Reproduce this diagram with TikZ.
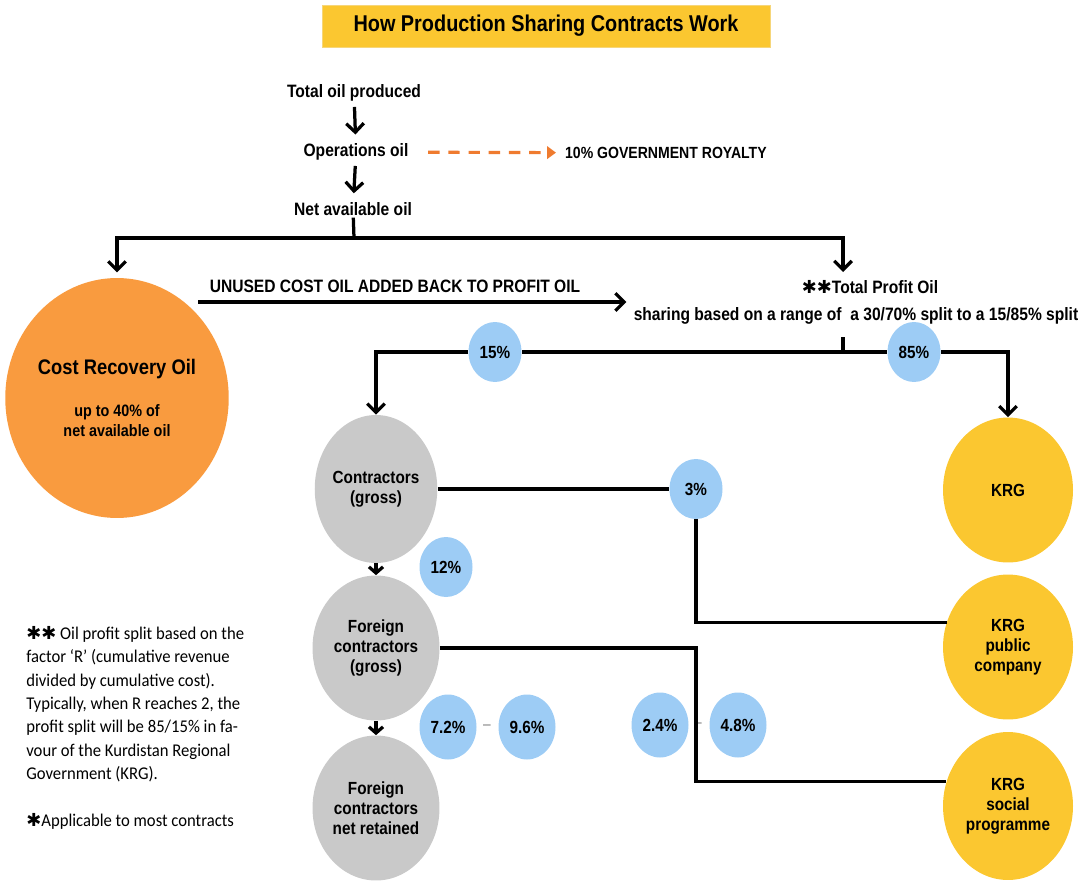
\documentclass[tikz,border=0pt]{standalone}
\usepackage{fontspec}
\setmainfont{Liberation Sans}[FakeStretch=0.87]
\newfontfamily\notefont{Carlito}[FakeStretch=0.93]
\newfontfamily\symfont{DejaVu Sans}
\usetikzlibrary{arrows.meta,shapes.geometric}

\definecolor{krgyellow}{HTML}{FBC730}
\definecolor{titleedge}{HTML}{F6D67A}
\definecolor{costorange}{HTML}{F99B3F}
\definecolor{royorange}{HTML}{EF7B2F}
\definecolor{contgray}{HTML}{C9C9C9}
\definecolor{pctblue}{HTML}{9DCCF5}

\newcommand{\starmark}{{\symfont\char"2731}}

\begin{document}
\begin{tikzpicture}[
  x=0.02cm, y=-0.02cm,
  every node/.style={inner sep=1pt, align=center, text=black},
  lbl/.style={font=\bfseries\fontsize{10.2}{11.4}\selectfont},
  oval/.style={ellipse, inner sep=0pt, font=\bfseries\fontsize{10}{11.4}\selectfont},
  contr/.style={oval, fill=contgray, minimum width=2.54cm, minimum height=2.9cm},
  krgnode/.style={oval, fill=krgyellow, minimum width=2.6cm, minimum height=2.9cm},
  pct/.style={ellipse, fill=pctblue, inner sep=0pt, minimum width=1.06cm, minimum height=1.2cm, font=\bfseries\fontsize{10}{12}\selectfont},
  pctwide/.style={pct, minimum width=1.14cm, minimum height=1.3cm},
  sep/.style={text=gray, font=\fontsize{9}{10}\selectfont},
  line/.style={line width=1.85pt},
  arr/.style={line width=1.85pt, -{Straight Barb[length=5pt,width=10pt]}},
  arrsmall/.style={line width=1.85pt, -{Straight Barb[length=3.5pt,width=8pt]}},
  dasharr/.style={line width=1.8pt, royorange, dash pattern=on 6.5pt off 5pt, -{Triangle[length=5pt,width=7pt]}}
]
  \useasboundingbox (0,0) rectangle (1084,882);

  % title
  \node (title) at (546,26) [fill=krgyellow, draw=titleedge, minimum width=8.96cm, minimum height=0.84cm,
    font=\bfseries\fontsize{13}{15}\selectfont] {How Production Sharing Contracts Work};

  % top of the flow
  \node[lbl] (total) at (354,93) {Total oil produced};
  \node[lbl] (ops) at (356,152) {Operations oil};
  \node[anchor=west, font=\bfseries\fontsize{9.2}{11}\selectfont] (royalty) at (563,153) {10\% GOVERNMENT ROYALTY};
  \node[lbl] (net) at (353,209) {Net available oil};

  \node (cro) at (117,398) [oval, fill=costorange, minimum width=4.2cm, minimum height=4.8cm] {%
    {\fontsize{12}{14}\selectfont Cost Recovery Oil}\\[12pt]
    {\fontsize{9.4}{11.4}\selectfont up to 40\% of}\\
    {\fontsize{9.4}{11.4}\selectfont net available oil}};

  \node[lbl] (unused) at (395,286) {UNUSED COST OIL ADDED BACK TO PROFIT OIL};
  \node[lbl] (profit) at (870,287) {\starmark\starmark Total Profit Oil};
  \node[lbl] (sharing) at (856,316) {sharing based on a range of~ a 30/70\% split to a 15/85\% split};

  % percentages
  \node[pct] (p15) at (495,352) {15\%};
  \node[pct] (p85) at (914,352) {85\%};
  \node[pct] (p3) at (696,489) {3\%};
  \node[pct] (p12) at (446,567) {12\%};
  \node[pctwide] (p72) at (448,727) {7.2\%};
  \node[pctwide] (p96) at (527,727) {9.6\%};
  \node[pctwide] (p24) at (660,725) {2.4\%};
  \node[pctwide] (p48) at (738,725) {4.8\%};
  \node[sep] (d1) at (487,727) {--};
  \node[sep] (d2) at (698,725) {--};

  % contractors and KRG
  \node[contr, minimum width=2.42cm, minimum height=2.96cm] (cg) at (376,489) {Contractors\\(gross)};
  \node[contr] (fcg) at (376,648) {Foreign\\contractors\\(gross)};
  \node[contr] (fcn) at (376,808) {Foreign\\contractors\\net retained};
  \node[krgnode] (krg) at (1008,490) {KRG};
  \node[krgnode] (krgpub) at (1008,647) {KRG\\public\\company};
  \node[krgnode, minimum height=2.96cm] (krgsoc) at (1008,806) {KRG\\social\\programme};

  % footnote
  \node[anchor=north west, align=left, inner sep=0pt,
    font=\notefont\fontsize{10.2}{13.3}\selectfont] (note) at (26,626) {%
    \starmark\starmark\ Oil profit split based on the\\
    factor ‘R’ (cumulative revenue\\
    divided by cumulative cost).\\
    Typically, when R reaches 2, the\\
    profit split will be 85/15\% in fa-\\
    vour of the Kurdistan Regional\\
    Government (KRG).\\[13.3pt]
    \starmark Applicable to most contracts};

  \coordinate (bar1) at (354,238);
  \coordinate (ptop) at (843,272);
  \coordinate (uc) at (198,302);
  \coordinate (bar2) at (843,352);
  \coordinate (bend) at (696,648);

  \draw[arr, shorten <=2pt, shorten >=4pt] (total) -- (ops);
  \draw[dasharr, shorten <=10pt, shorten >=4pt] (ops) -- (royalty);
  \draw[arr, shorten <=2pt, shorten >=4pt] (ops) -- (net);
  \draw[line] (net) -- (bar1);
  \draw[arr, shorten >=3pt] (bar1) -| (cro);
  \draw[arr] (bar1) -| (ptop);
  \draw[arr, shorten >=3pt] (uc) -- (uc -| sharing.west);
  \draw[line, shorten <=6pt] (bar2 |- sharing.south) -- (bar2);
  \draw[line] (bar2) -- (p15);
  \draw[arr] (p15) -| (cg);
  \draw[line] (bar2) -- (p85);
  \draw[arr] (p85) -| (krg);
  \draw[line] (cg) -- (p3);
  \draw[line] (p3) |- (krgpub.158);
  \draw[line] (fcg) -- (bend) |- (krgsoc.158);
  \draw[arrsmall] (cg) -- (fcg);
  \draw[arrsmall] (fcg) -- (fcn);
\end{tikzpicture}
\end{document}
